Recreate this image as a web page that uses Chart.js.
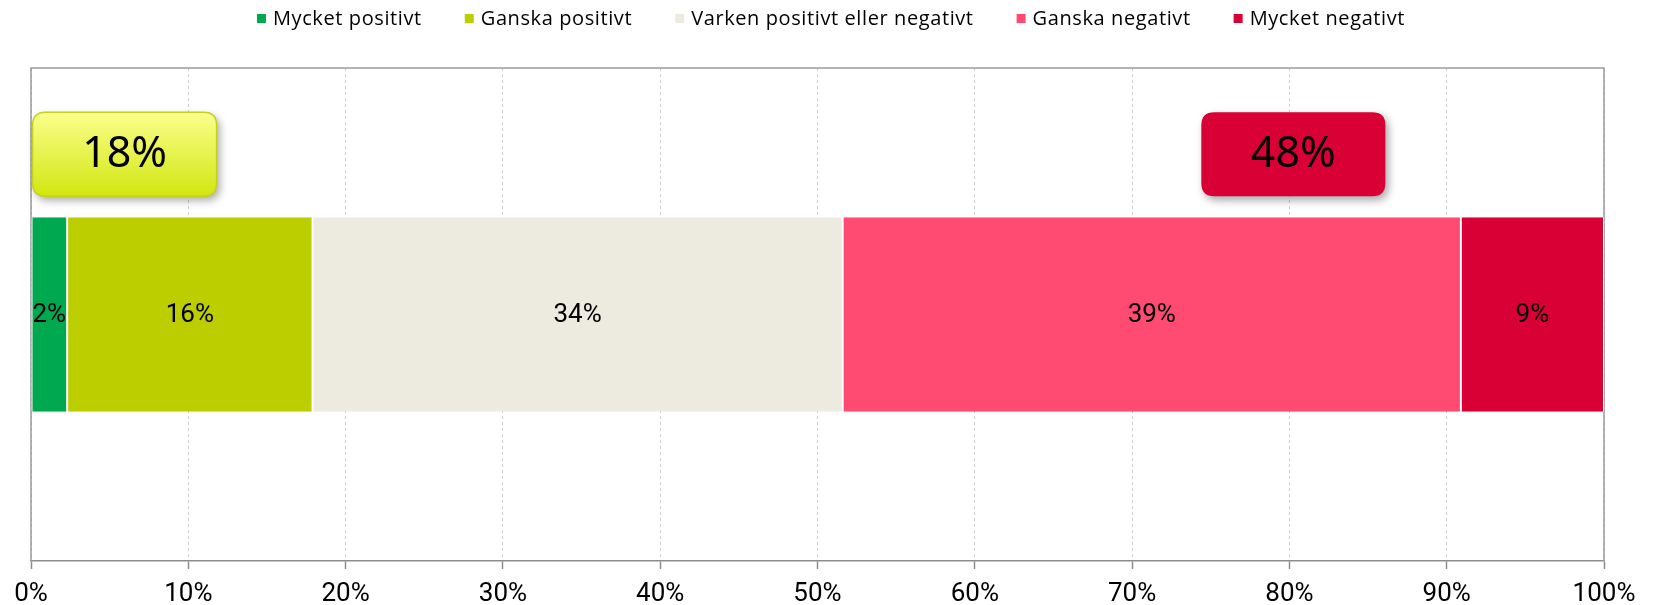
<!DOCTYPE html>
<html>
<head>
<meta charset="utf-8">
<script src="https://cdn.jsdelivr.net/npm/chart.js@4.4.1/dist/chart.umd.min.js"></script>
<style>
  html, body { margin: 0; padding: 0; background: #ffffff; }
  #wrap { width: 1654px; height: 605px; position: relative; }
</style>
</head>
<body>
<div id="wrap"><canvas id="c" width="1654" height="605"></canvas></div>
<script>
// ---- Data ----
const categories = [''];
const seriesNames = ['Mycket positivt', 'Ganska positivt', 'Varken positivt eller negativt', 'Ganska negativt', 'Mycket negativt'];
const mycketPositivt = [2.3];
const ganskaPositivt = [15.6];
const varken = [33.7];
const ganskaNegativt = [39.3];
const mycketNegativt = [9.1];
const tickLabels = ['0%', '10%', '20%', '30%', '40%', '50%', '60%', '70%', '80%', '90%', '100%'];

const seriesValues = [mycketPositivt, ganskaPositivt, varken, ganskaNegativt, mycketNegativt];
const seriesColors = ['#00a94f', '#bccd00', '#edebe0', '#ff4b72', '#d90036'];

const positiveSum = mycketPositivt[0] + ganskaPositivt[0];
const negativeSum = ganskaNegativt[0] + mycketNegativt[0];

const FONT = 'Roboto, "Noto Sans", sans-serif';
const LEGEND_FONT = '"Open Sans", Roboto, sans-serif';

// Custom legend drawn on the canvas (matches reference spacing)
const legendPlugin = {
  id: 'topLegend',
  afterDraw(chart) {
    const ctx = chart.ctx;
    const fs = 20, box = 9, gapBoxText = 7, itemGap = 43, cy = 18.5;
    ctx.save();
    ctx.font = fs + 'px ' + LEGEND_FONT;
    if ('letterSpacing' in ctx) ctx.letterSpacing = '0.6px';
    ctx.textBaseline = 'middle';
    ctx.textAlign = 'left';
    const items = chart.data.datasets.map(d => ({ text: d.label, color: d.backgroundColor, w: ctx.measureText(d.label).width }));
    const total = items.reduce((s, it) => s + box + gapBoxText + it.w, 0) + itemGap * (items.length - 1);
    let x = (chart.width - total) / 2 + 4;
    items.forEach(it => {
      ctx.fillStyle = it.color;
      ctx.fillRect(x, cy - box / 2, box, box);
      ctx.fillStyle = '#000000';
      ctx.fillText(it.text, x + box + gapBoxText, cy + 1);
      x += box + gapBoxText + it.w + itemGap;
    });
    ctx.restore();
  }
};

// Frame around plot area (left, top, right)
const framePlugin = {
  id: 'frame',
  beforeDatasetsDraw(chart) {
    const { ctx, chartArea: a } = chart;
    ctx.save();
    ctx.strokeStyle = '#9a9a9a';
    ctx.lineWidth = 1.5;
    ctx.beginPath();
    ctx.moveTo(a.left, a.bottom);
    ctx.lineTo(a.left, a.top);
    ctx.lineTo(a.right, a.top);
    ctx.lineTo(a.right, a.bottom);
    ctx.stroke();
    ctx.restore();
  }
};

// Value labels in the middle of each segment
const valueLabels = {
  id: 'valueLabels',
  afterDatasetsDraw(chart) {
    const ctx = chart.ctx;
    ctx.save();
    ctx.font = '26px ' + FONT;
    ctx.fillStyle = '#000000';
    ctx.textAlign = 'center';
    ctx.textBaseline = 'middle';
    chart.data.datasets.forEach((ds, di) => {
      const meta = chart.getDatasetMeta(di);
      meta.data.forEach((el, i) => {
        const v = ds.data[i];
        const cx = (el.x + el.base) / 2;
        ctx.fillText(Math.round(v) + '%', cx, el.y + 1);
      });
    });
    ctx.restore();
  }
};

function roundRect(ctx, x, y, w, h, r) {
  ctx.beginPath();
  ctx.moveTo(x + r, y);
  ctx.lineTo(x + w - r, y);
  ctx.quadraticCurveTo(x + w, y, x + w, y + r);
  ctx.lineTo(x + w, y + h - r);
  ctx.quadraticCurveTo(x + w, y + h, x + w - r, y + h);
  ctx.lineTo(x + r, y + h);
  ctx.quadraticCurveTo(x, y + h, x, y + h - r);
  ctx.lineTo(x, y + r);
  ctx.quadraticCurveTo(x, y, x + r, y);
  ctx.closePath();
}

// Summary call-out boxes (positive / negative totals)
const callouts = {
  id: 'callouts',
  afterDatasetsDraw(chart, args, opts) {
    const ctx = chart.ctx;
    const xs = chart.scales.x;
    const el = chart.getDatasetMeta(0).data[0];
    const barTop = el.y - el.height / 2;
    opts.items.forEach(item => {
      const x0 = xs.getPixelForValue(item.from);
      const x1 = xs.getPixelForValue(item.to);
      const y1 = barTop - 21;
      const y0 = y1 - 84;
      ctx.save();
      ctx.shadowColor = 'rgba(0,0,0,0.35)';
      ctx.shadowBlur = 8;
      ctx.shadowOffsetX = 3;
      ctx.shadowOffsetY = 4;
      roundRect(ctx, x0, y0, x1 - x0, y1 - y0, 13);
      if (item.gradient) {
        const g = ctx.createLinearGradient(0, y0, 0, y1);
        g.addColorStop(0, item.gradient[0]);
        g.addColorStop(1, item.gradient[1]);
        ctx.fillStyle = g;
      } else {
        ctx.fillStyle = item.fill;
      }
      ctx.fill();
      ctx.shadowColor = 'transparent';
      if (item.stroke) {
        ctx.strokeStyle = item.stroke;
        ctx.lineWidth = 1.5;
        ctx.stroke();
      }
      ctx.fillStyle = '#000000';
      ctx.font = '43px "Noto Sans", Roboto, sans-serif';
      ctx.textAlign = 'center';
      ctx.textBaseline = 'middle';
      ctx.fillText(item.text, (x0 + x1) / 2, (y0 + y1) / 2 + 1);
      ctx.restore();
    });
  }
};

const datasets = seriesNames.map((name, i) => ({
  label: name,
  data: seriesValues[i],
  backgroundColor: seriesColors[i],
  borderColor: '#ffffff',
  borderWidth: { left: 1, right: 1, top: 0, bottom: 0 },
  borderSkipped: false,
  categoryPercentage: 1.0,
  barPercentage: 0.395
}));

new Chart(document.getElementById('c'), {
  type: 'bar',
  data: { labels: categories, datasets },
  plugins: [legendPlugin, framePlugin, valueLabels, callouts],
  options: {
    indexAxis: 'y',
    responsive: false,
    animation: false,
    devicePixelRatio: 1,
    layout: { padding: { top: 68, left: 31, right: 50, bottom: -14 } },
    plugins: {
      legend: { display: false },
      tooltip: { enabled: false },
      callouts: {
        items: [
          { from: 0.1, to: 11.8, text: Math.round(positiveSum) + '%', gradient: ['#fbff8c', '#d2e60f'], stroke: '#c2d21e' },
          { from: 74.4, to: 86.1, text: Math.round(negativeSum) + '%', fill: '#d90036' }
        ]
      }
    },
    scales: {
      x: {
        stacked: true,
        min: 0,
        max: 100,
        ticks: {
          stepSize: 10,
          padding: 12,
          color: '#000000',
          font: { family: FONT, size: 26, lineHeight: 1.0 },
          callback: (v, i) => tickLabels[i],
          maxRotation: 0
        },
        grid: {
          color: '#cfcfcf',
          lineWidth: 1,
          tickLength: 8,
          tickColor: '#8c8c8c',
          tickWidth: 1.5,
          tickBorderDash: []
        },
        border: { display: true, color: '#8c8c8c', width: 1.5, dash: [3, 3] }
      },
      y: {
        stacked: true,
        display: false
      }
    }
  }
});
</script>
</body>
</html>
